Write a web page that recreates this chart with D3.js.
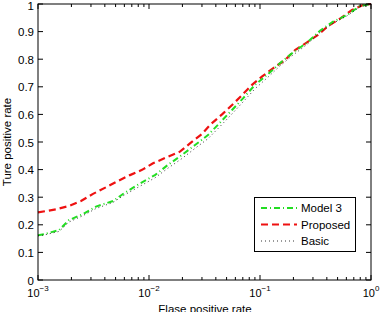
<!DOCTYPE html>
<html><head><meta charset="utf-8">
<script src="https://cdn.jsdelivr.net/npm/d3@7"></script>
<style>body{margin:0;background:#fff}svg{display:block;font-family:"Liberation Sans",Arial,sans-serif}</style>
</head><body><svg id="c" width="388" height="312"></svg>
<script>
const proposedFpr = [0.001,0.00145,0.0019,0.00244,0.00313,0.0041,0.00526,0.00674,0.00865,0.01087,0.01452,0.019,0.0234,0.030,0.0355,0.0455,0.056,0.0689,0.0847,0.104,0.131,0.168,0.207,0.265,0.333,0.41,0.526,0.674,0.847,1];
const proposedTpr = [0.245,0.256,0.268,0.286,0.312,0.336,0.359,0.38,0.399,0.423,0.445,0.465,0.495,0.529,0.562,0.6,0.634,0.67,0.707,0.737,0.767,0.797,0.833,0.861,0.888,0.92,0.947,0.978,0.996,1];
const model3Fpr = [0.001,0.00113,0.00155,0.0019,0.00254,0.00333,0.00474,0.00595,0.0083,0.0113,0.0148,0.0198,0.026,0.034,0.0436,0.056,0.0703,0.0902,0.118,0.151,0.198,0.265,0.347,0.455,0.608,0.796,1];
const model3Tpr = [0.162,0.166,0.181,0.217,0.239,0.266,0.286,0.314,0.35,0.38,0.417,0.453,0.489,0.525,0.57,0.616,0.658,0.707,0.746,0.785,0.824,0.86,0.903,0.936,0.96,0.993,1];
const basicFpr = [0.001,0.00113,0.00155,0.0019,0.00254,0.00333,0.00474,0.00595,0.0083,0.0113,0.0148,0.0198,0.026,0.034,0.0436,0.056,0.0703,0.0902,0.118,0.151,0.198,0.265,0.347,0.455,0.608,0.796,1];
const basicTpr = [0.16,0.163,0.176,0.21,0.233,0.259,0.281,0.307,0.34,0.37,0.405,0.44,0.477,0.512,0.556,0.602,0.645,0.693,0.735,0.775,0.815,0.853,0.897,0.93,0.957,0.99,1];
const yTicks = [0,0.1,0.2,0.3,0.4,0.5,0.6,0.7,0.8,0.9,1];
const xTickExps = [-3,-2,-1,0];
const legendNames = ["Model 3","Proposed","Basic"];

const svg = d3.select("#c");
const L=38,R=371,T=4,B=280;
const x = d3.scaleLog().domain([1e-3,1]).range([L,R]);
const y = d3.scaleLinear().domain([0,1]).range([B,T]);

const series = [
  {name:legendNames[0], fpr:model3Fpr, tpr:model3Tpr, color:"#22dd22", w:2, dash:"6,3,1,3"},
  {name:legendNames[1], fpr:proposedFpr, tpr:proposedTpr, color:"#ee1111", w:2.2, dash:"7,4"},
  {name:legendNames[2], fpr:basicFpr, tpr:basicTpr, color:"#000", w:0.8, dash:"1,3"}
];
const line = d3.line().x(d=>x(d[0])).y(d=>y(d[1]));
[series[1],series[0],series[2]].forEach(s=>{
  svg.append("path").attr("d",line(s.fpr.map((f,i)=>[f,s.tpr[i]])))
    .attr("fill","none").attr("stroke",s.color).attr("stroke-width",s.w).attr("stroke-dasharray",s.dash);
});

const ax = svg.append("g").attr("stroke","#000").attr("stroke-width",1);
ax.append("rect").attr("x",L).attr("y",T).attr("width",R-L).attr("height",B-T).attr("fill","none").attr("stroke","#000");
const minor=[];
for(let e=-3;e<0;e++) for(let k=2;k<10;k++) minor.push(k*Math.pow(10,e));
minor.forEach(v=>{
  ax.append("line").attr("x1",x(v)).attr("x2",x(v)).attr("y1",B).attr("y2",B-3);
  ax.append("line").attr("x1",x(v)).attr("x2",x(v)).attr("y1",T).attr("y2",T+3);
});
xTickExps.forEach(e=>{
  const v=Math.pow(10,e);
  ax.append("line").attr("x1",x(v)).attr("x2",x(v)).attr("y1",B).attr("y2",B-5);
  ax.append("line").attr("x1",x(v)).attr("x2",x(v)).attr("y1",T).attr("y2",T+5);
  const t=svg.append("text").attr("x",x(v)).attr("y",B+17).attr("text-anchor","middle").attr("font-size",11);
  t.append("tspan").text("10");
  t.append("tspan").attr("dy",-6).attr("font-size",8).text(e===0?"0":"\u2212"+(-e));
});
yTicks.forEach(v=>{
  ax.append("line").attr("x1",L).attr("x2",L+5).attr("y1",y(v)).attr("y2",y(v));
  ax.append("line").attr("x1",R).attr("x2",R-5).attr("y1",y(v)).attr("y2",y(v));
  svg.append("text").attr("x",L-4).attr("y",Math.max(y(v)+4.5,10)).attr("text-anchor","end").attr("font-size",11.5).text(d3.format("")(v));
});
svg.append("text").attr("x",205).attr("y",313).attr("text-anchor","middle").attr("font-size",11.5).text("Flase positive rate");
svg.append("text").attr("transform","translate(11,142) rotate(-90)").attr("text-anchor","middle").attr("font-size",11.5).text("Ture positive rate");

const lg = svg.append("g");
lg.append("rect").attr("x",254.5).attr("y",197.5).attr("width",101).attr("height",54).attr("fill","#fff").attr("stroke","#000");
series.forEach((s,i)=>{
  const yy=208+i*16.5;
  lg.append("line").attr("x1",261).attr("x2",297).attr("y1",yy).attr("y2",yy)
    .attr("stroke",s.color).attr("stroke-width",s.w).attr("stroke-dasharray",s.dash);
  lg.append("text").attr("x",301).attr("y",yy+4).attr("font-size",11.5).text(s.name);
});
</script></body></html>
